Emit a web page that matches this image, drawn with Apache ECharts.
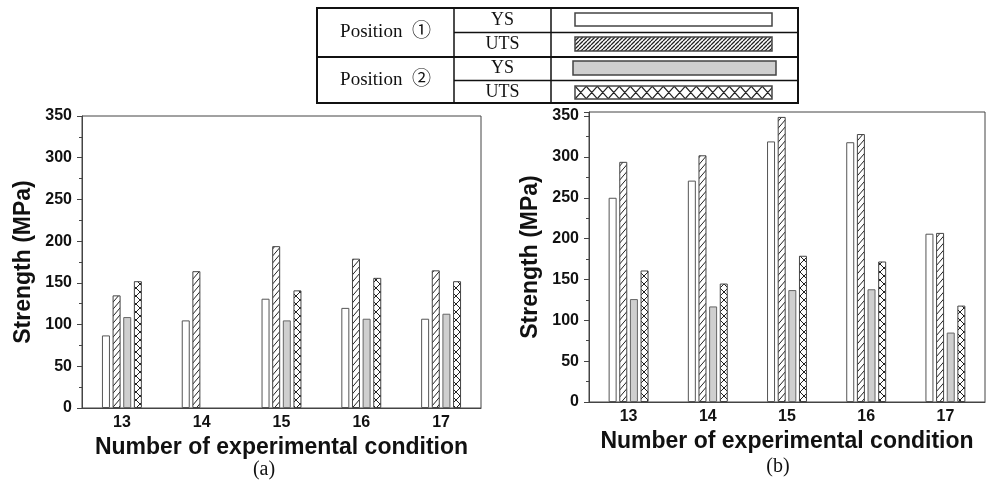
<!DOCTYPE html>
<html>
<head>
<meta charset="utf-8">
<script src="https://cdn.jsdelivr.net/npm/echarts@6/dist/echarts.min.js"></script>
<style>
  html, body { margin: 0; padding: 0; background: #fff; }
  #main { width: 986px; height: 492px; }
</style>
</head>
<body>
<div id="main"></div>
<script>
// x categories (experimental condition numbers)
var categories = ['13', '14', '15', '16', '17'];

// (a) strength, MPa
var aYS1  = [87, 105, 131, 120, 107];
var aUTS1 = [135, 164, 194, 179, 165];
var aYS2  = [109, null, 105, 107, 113];
var aUTS2 = [152, null, 141, 156, 152];

// (b) strength, MPa
var bYS1  = [250, 271, 319, 318, 206];
var bUTS1 = [294, 302, 349, 328, 207];
var bYS2  = [126, 117, 137, 138, 85];
var bUTS2 = [161, 145, 179, 172, 118];

// legend table text
var legendPositions = ['Position  \u2460', 'Position  \u2461'];
var legendKinds = ['YS', 'UTS'];

var fontSans = 'Liberation Sans, Arial, sans-serif';
var fontSerif = 'Liberation Serif, Times New Roman, Noto Sans CJK SC, serif';

// small canvas tiles for hatch patterns
function makeTile(w, h, lw, cross){
    var c = document.createElement('canvas');
    c.width = w; c.height = h;
    var g = c.getContext('2d');
    g.fillStyle = '#fff';
    g.fillRect(0, 0, w, h);
    g.strokeStyle = '#222';
    g.lineWidth = lw;
    g.beginPath();
    for(var k = -1; k <= 1; k++){
        g.moveTo(k * w, h); g.lineTo(k * w + w, 0);
        if(cross){
            g.moveTo(k * w, 0); g.lineTo(k * w + w, h);
        }
    }
    g.stroke();
    return c;
}
var hatchBar  = {image: makeTile(6, 7, 1, false), repeat: 'repeat'};
var crossBar  = {image: makeTile(8, 8, 1, true), repeat: 'repeat'};
var hatchLeg  = {image: makeTile(4, 4, 1.3, false), repeat: 'repeat'};
var crossLeg  = {image: makeTile(11.6, 13, 1.2, true), repeat: 'repeat'};

var styles = [
    {color: '#fff', borderColor: '#555', borderWidth: 1},
    {color: hatchBar, borderColor: '#444', borderWidth: 1},
    {color: '#cfcfcf', borderColor: '#666', borderWidth: 1},
    {color: crossBar, borderColor: '#444', borderWidth: 1}
];

function makeX(idx){
    return {
        type: 'category', gridIndex: idx, data: categories,
        boundaryGap: true,
        name: 'Number of experimental condition',
        nameLocation: 'middle', nameGap: 21,
        nameTextStyle: {fontFamily: fontSans, fontWeight: 'bold', fontSize: 23, color: '#111'},
        axisLine: {lineStyle: {color: '#444', width: 1}},
        axisTick: {alignWithLabel: true, length: 4, lineStyle: {color: '#444'}},
        axisLabel: {fontFamily: fontSans, fontWeight: 'bold', fontSize: 16, color: '#111', margin: 7}
    };
}
function makeY(idx, max){
    return {
        type: 'value', gridIndex: idx, min: 0, max: max, interval: 50,
        name: 'Strength (MPa)',
        nameLocation: 'middle', nameGap: 47,
        nameTextStyle: {fontFamily: fontSans, fontWeight: 'bold', fontSize: 23, color: '#111'},
        axisLine: {show: true, lineStyle: {color: '#444', width: 1}},
        axisTick: {show: true, length: 5, lineStyle: {color: '#444'}},
        minorTick: {show: true, splitNumber: 2, length: 3, lineStyle: {color: '#444'}},
        splitLine: {show: false},
        axisLabel: {fontFamily: fontSans, fontWeight: 'bold', fontSize: 16, color: '#111', margin: 10, showMaxLabel: max === 350}
    };
}
function makeSeries(idx, arrs){
    var names = ['Position 1 YS', 'Position 1 UTS', 'Position 2 YS', 'Position 2 UTS'];
    return arrs.map(function(d, i){
        return {
            name: names[i], type: 'bar', xAxisIndex: idx, yAxisIndex: idx,
            data: d, barWidth: 8, barGap: '33%',
            itemStyle: styles[i]
        };
    });
}

// legend table drawn as graphics
var tbl = {x0: 317, x1: 798, y0: 8, y1: 103, c1: 454, c2: 551};
var rowY = [20, 44.5, 68.5, 92];
var graphics = [
    {type: 'rect', shape: {x: tbl.x0, y: tbl.y0, width: tbl.x1 - tbl.x0, height: tbl.y1 - tbl.y0}, style: {fill: '#fff', stroke: '#111', lineWidth: 2}},
    {type: 'line', shape: {x1: tbl.c1, y1: tbl.y0, x2: tbl.c1, y2: tbl.y1}, style: {stroke: '#111', lineWidth: 1.5}},
    {type: 'line', shape: {x1: tbl.c2, y1: tbl.y0, x2: tbl.c2, y2: tbl.y1}, style: {stroke: '#111', lineWidth: 1.5}},
    {type: 'line', shape: {x1: tbl.x0, y1: 57, x2: tbl.x1, y2: 57}, style: {stroke: '#111', lineWidth: 2}},
    {type: 'line', shape: {x1: tbl.c1, y1: 32.5, x2: tbl.x1, y2: 32.5}, style: {stroke: '#111', lineWidth: 1.5}},
    {type: 'line', shape: {x1: tbl.c1, y1: 80.5, x2: tbl.x1, y2: 80.5}, style: {stroke: '#111', lineWidth: 1.5}},
    {type: 'text', x: (tbl.x0 + tbl.c1) / 2, y: 32, style: {text: legendPositions[0], font: '19px ' + fontSerif, fill: '#111', align: 'center', verticalAlign: 'middle'}},
    {type: 'text', x: (tbl.x0 + tbl.c1) / 2, y: 80, style: {text: legendPositions[1], font: '19px ' + fontSerif, fill: '#111', align: 'center', verticalAlign: 'middle'}},
    {type: 'rect', x: 575, y: 13, shape: {x: 0, y: 0, width: 197, height: 13}, style: {fill: '#fff', stroke: '#444', lineWidth: 1.5}},
    {type: 'rect', x: 575, y: 37, shape: {x: 0, y: 0, width: 197, height: 14}, style: {fill: hatchLeg, stroke: '#444', lineWidth: 1.5}},
    {type: 'rect', x: 573, y: 61, shape: {x: 0, y: 0, width: 203, height: 14}, style: {fill: '#cfcfcf', stroke: '#444', lineWidth: 1.5}},
    {type: 'rect', x: 575, y: 86, shape: {x: 0, y: 0, width: 197, height: 13}, style: {fill: crossLeg, stroke: '#444', lineWidth: 1.5}},
    {type: 'text', x: 264, y: 470, style: {text: '(a)', font: '20px ' + fontSerif, fill: '#111', align: 'center', verticalAlign: 'middle'}},
    {type: 'text', x: 778, y: 467, style: {text: '(b)', font: '20px ' + fontSerif, fill: '#111', align: 'center', verticalAlign: 'middle'}}
];
for(var r = 0; r < 4; r++){
    graphics.push({type: 'text', x: (tbl.c1 + tbl.c2) / 2, y: rowY[r],
        style: {text: legendKinds[r % 2], font: '18px ' + fontSerif, fill: '#111', align: 'center', verticalAlign: 'middle'}});
}

var myChart = echarts.init(document.getElementById('main'));
var option = {
    backgroundColor: '#fff',
    animation: false,
    grid: [
        {left: 82, top: 116, width: 399, height: 292, show: true, borderColor: '#444', borderWidth: 1, backgroundColor: 'transparent'},
        {left: 589, top: 112, width: 396, height: 290, show: true, borderColor: '#444', borderWidth: 1, backgroundColor: 'transparent'}
    ],
    xAxis: [makeX(0), makeX(1)],
    yAxis: [makeY(0, 350), makeY(1, 355)],
    series: makeSeries(0, [aYS1, aUTS1, aYS2, aUTS2]).concat(makeSeries(1, [bYS1, bUTS1, bYS2, bUTS2])),
    graphic: graphics
};
myChart.setOption(option);
</script>
</body>
</html>
